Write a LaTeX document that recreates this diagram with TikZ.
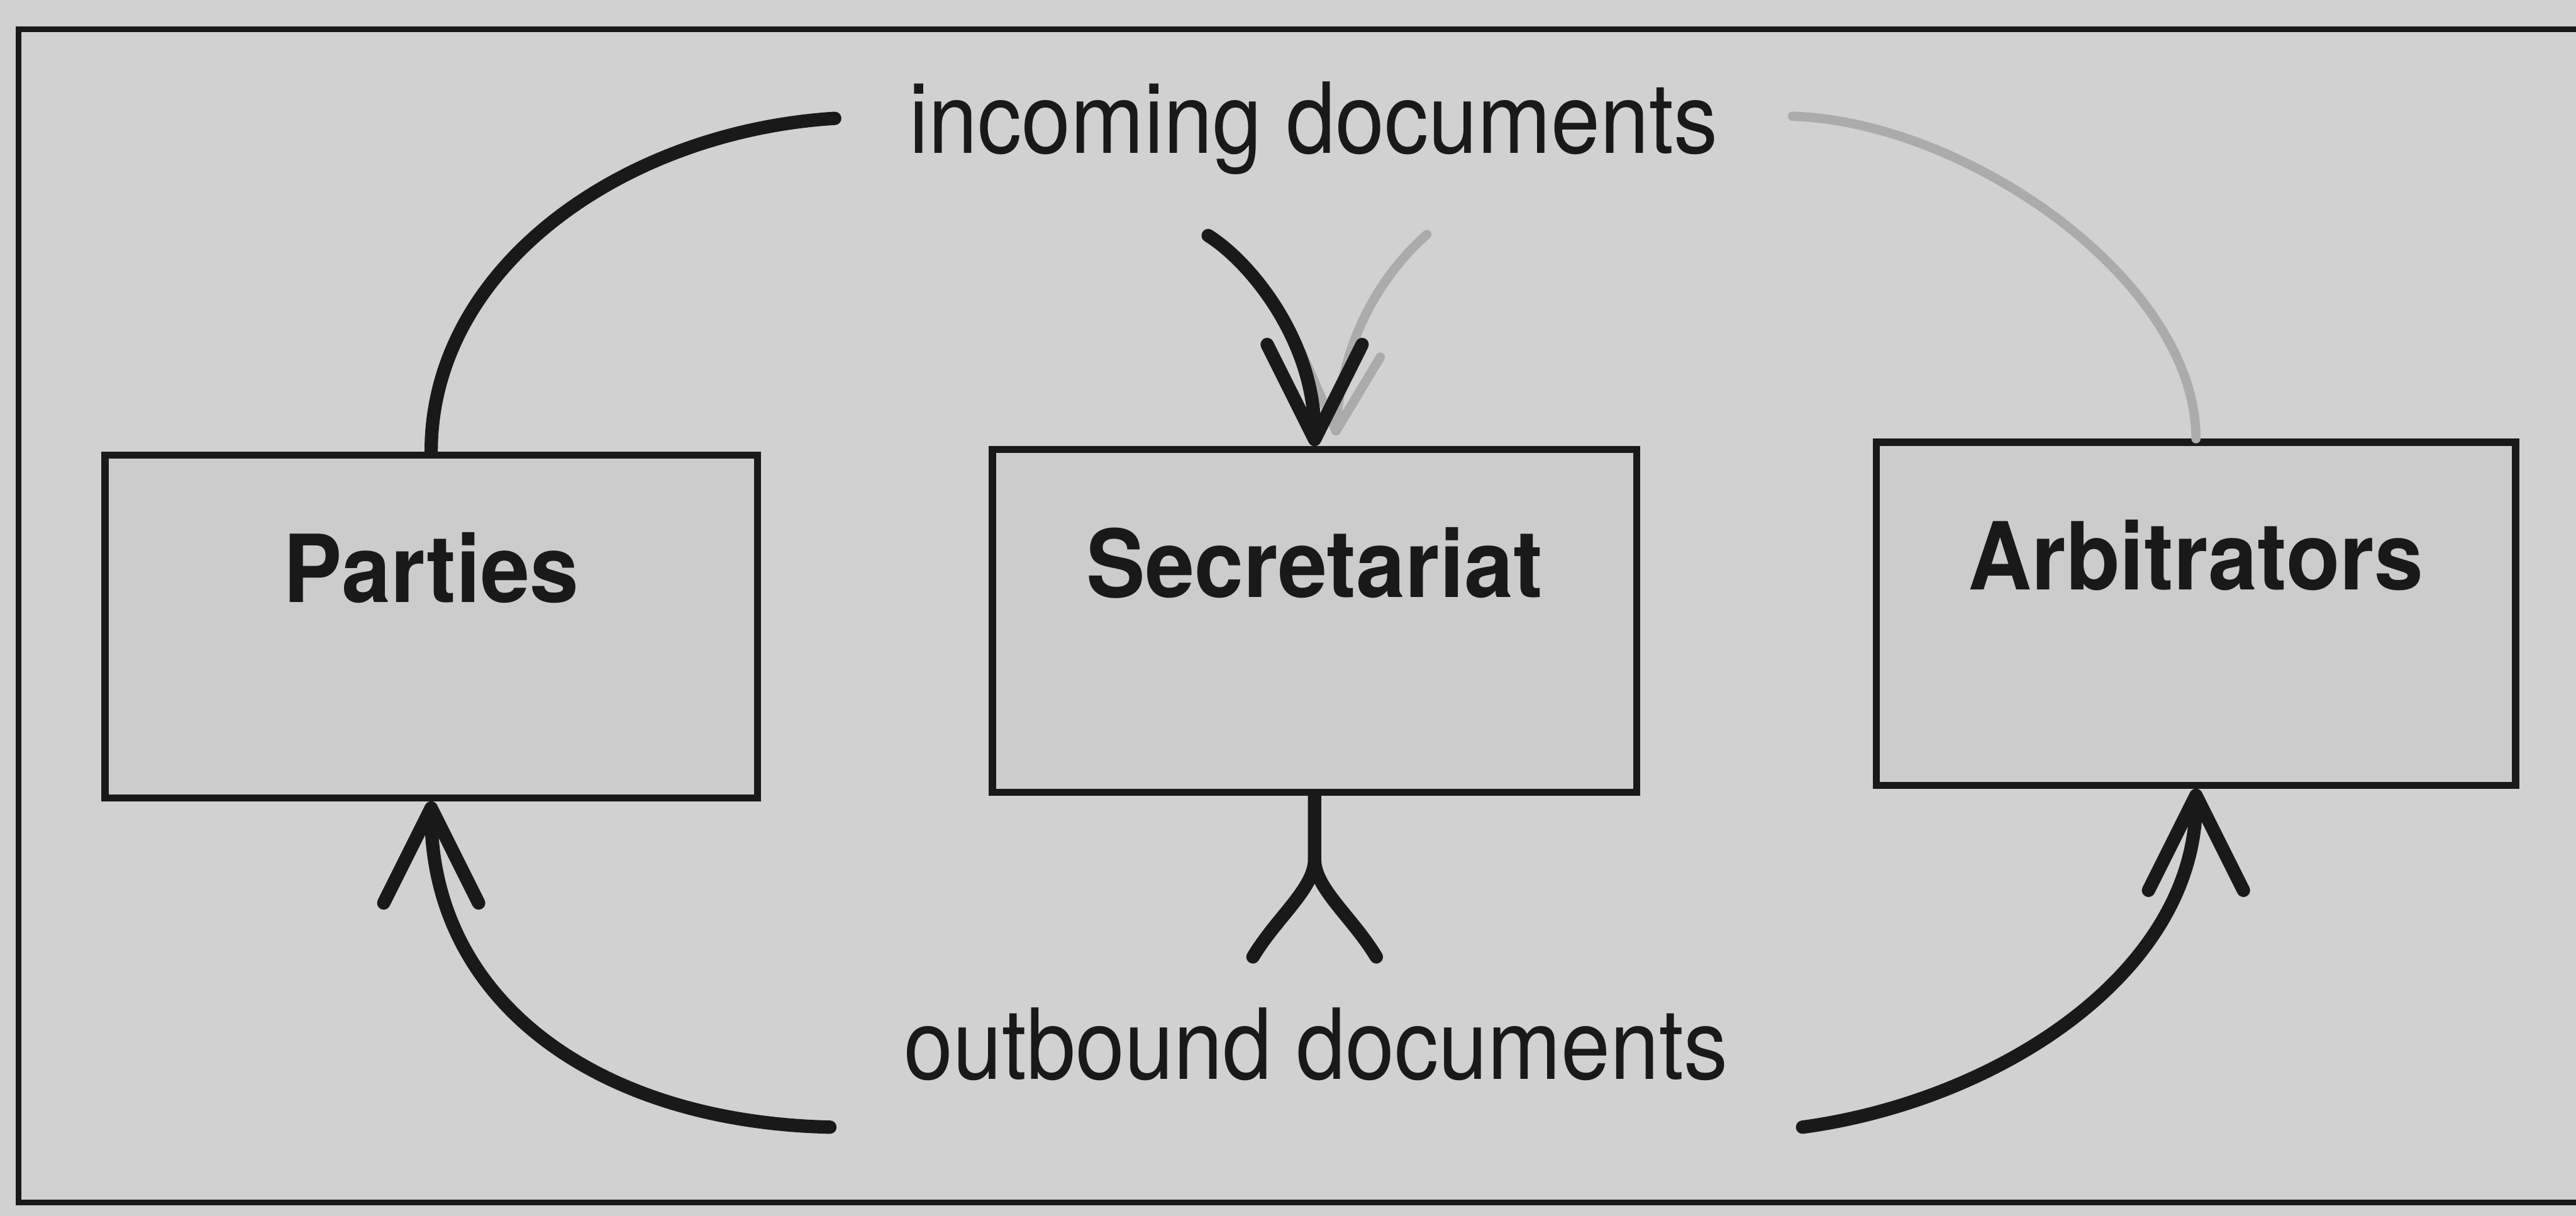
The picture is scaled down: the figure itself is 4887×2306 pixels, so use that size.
\documentclass[tikz,border=0pt]{standalone}
\usepackage{fontspec}
\usetikzlibrary{arrows.meta,calc}
\newfontfamily\labfont[FakeStretch=0.9]{TeX Gyre Heros}
\newfontfamily\boxfont[FakeStretch=0.94]{TeX Gyre Heros}
\definecolor{bg}{gray}{0.82}
\definecolor{boxfill}{gray}{0.8}
\definecolor{ink}{gray}{0.1}
\definecolor{ghost}{gray}{0.67}
\begin{document}
\begin{tikzpicture}[x=0.01cm,y=-0.01cm,
  entity/.style={draw=ink, line width=3.8pt, fill=boxfill, inner sep=0pt,
    text height=2.8cm, text depth=3.7cm, text=ink,
    font=\boxfont\bfseries\fontsize{50.6pt}{56pt}\selectfont},
  doclabel/.style={inner xsep=1.4cm, inner ysep=0.5cm, text height=1.35cm, text depth=0.4cm,
    text=ink, anchor=base, font=\labfont\fontsize{52.9pt}{60pt}\selectfont},
  flow/.style={draw=ink, line width=7.2pt, line cap=round, line join=round},
  tip/.style={-{Straight Barb[length=1.8cm,width=1.8cm,round]}},
  ghosttip/.style={-{Straight Barb[length=1.45cm,width=1.5cm,round]}},
  ghostflow/.style={draw=ghost, line width=5pt, line cap=round, line join=round},
]
\fill[bg] (0,0) rectangle (4887,2306);
\useasboundingbox (0,0) rectangle (4887,2306);
% frame
\draw[ink, line width=3pt] (4887,55) -- (35,55) -- (35,2281) -- (4887,2281);

% boxes
\node[entity, minimum width=12.37cm] (par) at (818,1188) {Parties};
\node[entity, minimum width=12.22cm] (sec) at (2494,1178) {Secretariat};
\node[entity, minimum width=12.12cm] (arb) at (4166,1164) {Arbitrators};

% labels
\node[doclabel] (inc) at (2492,290) {incoming documents};
\node[doclabel] (outb) at (2497,2047) {outbound documents};

% helper coordinates
\coordinate (incA) at ($(inc.south)+(-200,66)$);
\coordinate (incG) at ($(inc.south)+(215,64)$);
\coordinate (secG) at ($(sec.north)+(40,-20)$);
\coordinate (parT) at ($(inc.west)+(0,-18)$);
\coordinate (fj) at ($(sec.south)+(0,120)$);
\coordinate (fl) at ($(sec.south)+(-117,305)$);
\coordinate (fr) at ($(sec.south)+(117,305)$);

% grey connectors
\draw[ghostflow] ($(inc.east)+(0,-22)$) .. controls +(330,10) and +(0,-300) .. (arb.north);
\draw[ghostflow, ghosttip] (incG) .. controls +(-80,70) and +(12,-190) .. (secG);

% black connectors
\draw[flow] (par.north) .. controls +(0,-350) and +(-400,25) .. (parT);
\draw[flow, tip] (incA) .. controls +(80,50) and +(0,-200) .. (sec.north);
\draw[flow] (sec.south) -- (fj) .. controls +(0,55) and +(45,-75) .. (fl);
\draw[flow] (fj) .. controls +(0,55) and +(-45,-75) .. (fr);
\draw[flow, tip] (outb.south west) .. controls +(-440,-10) and +(0,380) .. (par.south);
\draw[flow, tip] (outb.south east) .. controls +(370,-50) and +(0,350) .. (arb.south);
\end{tikzpicture}
\end{document}
